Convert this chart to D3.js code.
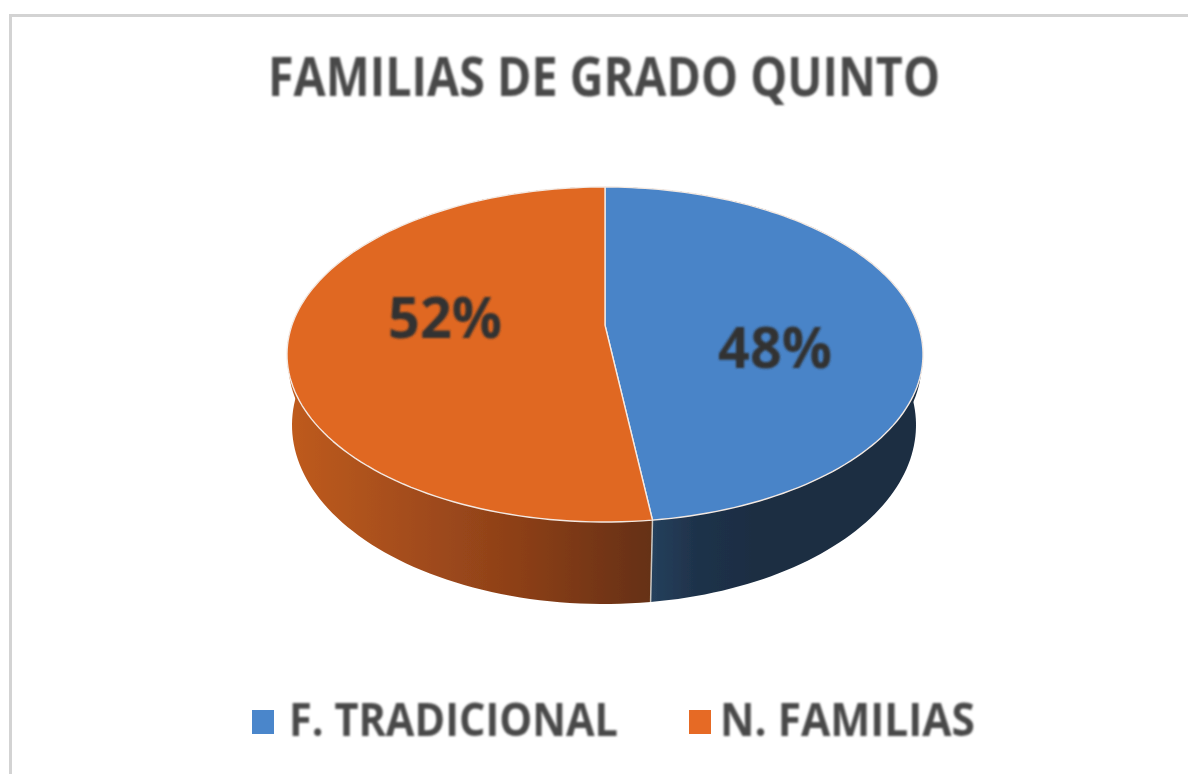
<!DOCTYPE html>
<html>
<head>
<meta charset="utf-8">
<script src="https://cdnjs.cloudflare.com/ajax/libs/d3/7.8.5/d3.min.js"></script>
<style>
html, body { margin: 0; padding: 0; background: #fff; }
svg { display: block; }
text { font-family: "Open Sans", "Noto Sans", sans-serif; font-weight: 700; }
</style>
</head>
<body>
<svg id="chart" width="1188" height="774"></svg>
<script>
// values
var categories = ["F. TRADICIONAL", "N. FAMILIAS"];
var values = [48, 52];
var colors = ["#4a84c8", "#e06724"];
var title = "FAMILIAS DE GRADO QUINTO";

var svg = d3.select("#chart");

// the source is a soft, upscaled screenshot
var defs = svg.append("defs");
defs.append("filter").attr("id", "soft")
    .append("feGaussianBlur").attr("stdDeviation", 0.8);
defs.append("filter").attr("id", "softPie")
    .append("feGaussianBlur").attr("stdDeviation", 0.45);

// frame of the chart, open to the right and at the bottom
svg.append("path")
    .attr("d", "M10.5,774V15.5H1188")
    .attr("fill", "none")
    .attr("stroke", "#d3d3d3")
    .attr("stroke-width", 3);

// top face and lower rim of the tilted pie, midFace squares off the wall's shoulders
var topFace = {cx: 605, cy: 354.5, rx: 318, ry: 167.5};
var midFace = {cx: 605, cy: 364, rx: 316.5, ry: 167.5};
var lowFace = {cx: 604, cy: 425, rx: 312, ry: 179};
// perspective shift, moves the pie centre up from the ellipse centre
var k = -0.175;

function project(a, f, e) {
  var x = f * Math.sin(a), y = -f * Math.cos(a), w = 1 + k * y;
  return [e.cx + e.rx * x * Math.sqrt(1 - k * k) / w, e.cy + e.ry * (y + k) / w];
}

function rim(d, e) {
  return d3.range(0, 121).map(function(i) {
    return project(d.startAngle + (d.endAngle - d.startAngle) * i / 120, 1, e);
  });
}

var pie = d3.pie().sort(null).value(function(d) { return d; });
var slices = pie(values);
var line = d3.line();

var wallStops = [
  [[652, "#25405c"], [700, "#1e3149"], [760, "#1b2d42"], [920, "#1b2d42"]],
  [[288, "#bf5b1f"], [400, "#a64e1c"], [520, "#8c3f18"], [652, "#653012"]]
];

wallStops.forEach(function(stops, i) {
  var grad = defs.append("linearGradient")
      .attr("id", "wall" + i)
      .attr("gradientUnits", "userSpaceOnUse")
      .attr("x1", 288).attr("x2", 920).attr("y1", 0).attr("y2", 0);
  grad.selectAll("stop")
    .data(stops)
    .enter().append("stop")
      .attr("offset", function(d) { return (d[0] - 288) / (920 - 288); })
      .attr("stop-color", function(d) { return d[1]; });
});

var pieGroup = svg.append("g").attr("filter", "url(#softPie)");

// side walls first, the top face covers what is behind
[lowFace, midFace].forEach(function(face, j) {
  pieGroup.selectAll(".wall" + j)
    .data(slices)
    .enter().append("path")
      .attr("class", "wall" + j)
      .attr("fill", function(d, i) { return "url(#wall" + i + ")"; })
      .attr("d", function(d) {
        return line(rim(d, topFace).concat(rim(d, face).reverse())) + "Z";
      });
});

// seam between the two walls
var seam = [project(slices[0].endAngle, 1, topFace), project(slices[0].endAngle, 1, lowFace)];
pieGroup.append("path")
    .attr("d", line(seam))
    .attr("stroke", "#c9c6c2")
    .attr("stroke-width", 1.5);

pieGroup.selectAll(".face")
  .data(slices)
  .enter().append("path")
    .attr("class", "face")
    .attr("fill", function(d, i) { return colors[i]; })
    .attr("stroke", "#f3e9e2")
    .attr("stroke-width", 1.4)
    .attr("stroke-linejoin", "round")
    .attr("d", function(d) {
      return line([project(0, 0, topFace)].concat(rim(d, topFace))) + "Z";
    });

// percentages
var labelPos = [[775, 368], [445, 338]];
svg.selectAll(".pct")
  .data(values)
  .enter().append("text")
    .attr("class", "pct")
    .attr("x", function(d, i) { return labelPos[i][0]; })
    .attr("y", function(d, i) { return labelPos[i][1]; })
    .attr("text-anchor", "middle")
    .attr("font-size", 58)
    .attr("textLength", 114)
    .attr("lengthAdjust", "spacingAndGlyphs")
    .attr("fill", "#333333")
    .attr("filter", "url(#soft)")
    .text(function(d) { return d + "%"; });

svg.append("text")
    .attr("x", 268)
    .attr("y", 96)
    .attr("font-size", 54)
    .attr("textLength", 672)
    .attr("lengthAdjust", "spacingAndGlyphs")
    .attr("fill", "#4a4a4a")
    .attr("filter", "url(#soft)")
    .text(title);

// legend
var legendX = [252, 689];
var legendText = [[289, 329], [720, 255]];
var legendColors = ["#4a86cb", "#e66a25"];
var legend = svg.selectAll(".legend")
  .data(categories)
  .enter().append("g")
    .attr("class", "legend");

legend.append("rect")
    .attr("x", function(d, i) { return legendX[i]; })
    .attr("y", 710)
    .attr("width", 22)
    .attr("height", 24)
    .attr("fill", function(d, i) { return legendColors[i]; });

legend.append("text")
    .attr("x", function(d, i) { return legendText[i][0]; })
    .attr("y", 736)
    .attr("font-size", 47)
    .attr("textLength", function(d, i) { return legendText[i][1]; })
    .attr("lengthAdjust", "spacingAndGlyphs")
    .attr("fill", "#4a4a4a")
    .attr("filter", "url(#soft)")
    .text(function(d) { return d; });
</script>
</body>
</html>
